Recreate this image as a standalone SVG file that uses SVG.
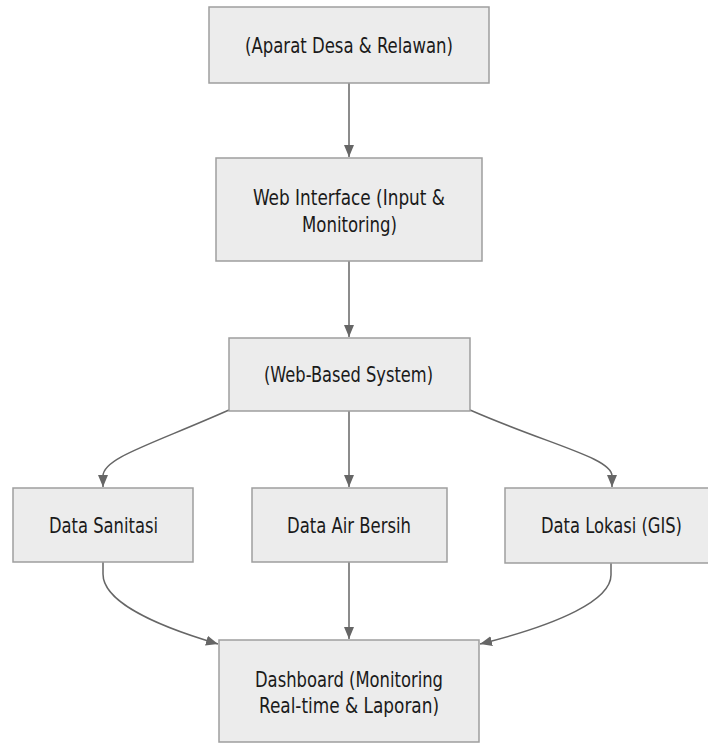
<svg xmlns="http://www.w3.org/2000/svg" width="708" height="743" viewBox="0 0 708 743">
<style>
.node rect{fill:#ececec;stroke:#9e9e9e;stroke-width:1.5}
.node text{font-family:"DejaVu Sans Condensed","DejaVu Sans",sans-serif;font-size:21.5px;fill:#1a1a1a;text-anchor:middle}
.edges path{fill:none;stroke:#666;stroke-width:1.5}
</style>
<defs>
<marker id="arr" viewBox="0 0 12 10" refX="12" refY="5" markerWidth="12" markerHeight="10" markerUnits="userSpaceOnUse" orient="auto">
<path d="M0,0 L12,5 L0,10 Z" fill="#666"/>
</marker>
</defs>
<rect width="708" height="743" fill="#fff"/>
<g class="edges">
<path d="M349,83 L349,157" marker-end="url(#arr)"/>
<path d="M349,261 L349,337" marker-end="url(#arr)"/>
<path d="M229,410 C150,445 103,458 103,476 L103,487" marker-end="url(#arr)"/>
<path d="M349,411 L349,487" marker-end="url(#arr)"/>
<path d="M470,410 C550,445 612,458 612,476 L612,487" marker-end="url(#arr)"/>
<path d="M103,562 L103,574 C103,600 150,624 218,644" marker-end="url(#arr)"/>
<path d="M349,562 L349,639" marker-end="url(#arr)"/>
<path d="M611,563 L611,575 C611,600 560,624 480,644" marker-end="url(#arr)"/>
</g>
<g id="n1" class="node"><rect x="209" y="7" width="280" height="76"/><text x="349" y="53" textLength="208" lengthAdjust="spacingAndGlyphs">(Aparat Desa &amp; Relawan)</text></g>
<g id="n2" class="node"><rect x="216" y="158" width="266" height="103"/><text x="349" y="205" textLength="192" lengthAdjust="spacingAndGlyphs">Web Interface (Input &amp;</text><text x="349.5" y="231.5" textLength="95" lengthAdjust="spacingAndGlyphs">Monitoring)</text></g>
<g id="n3" class="node"><rect x="229" y="338" width="241" height="73"/><text x="348.5" y="382" textLength="169" lengthAdjust="spacingAndGlyphs">(Web-Based System)</text></g>
<g id="n4" class="node"><rect x="13" y="488" width="180" height="74"/><text x="103.5" y="532.5" textLength="109" lengthAdjust="spacingAndGlyphs">Data Sanitasi</text></g>
<g id="n5" class="node"><rect x="252" y="488" width="195" height="74"/><text x="349" y="532.5" textLength="124" lengthAdjust="spacingAndGlyphs">Data Air Bersih</text></g>
<g id="n6" class="node"><rect x="505" y="488" width="212" height="75"/><text x="611.5" y="533" textLength="141" lengthAdjust="spacingAndGlyphs">Data Lokasi (GIS)</text></g>
<g id="n7" class="node"><rect x="219" y="640" width="260" height="102"/><text x="349" y="686.5" textLength="188" lengthAdjust="spacingAndGlyphs">Dashboard (Monitoring</text><text x="349" y="713" textLength="180" lengthAdjust="spacingAndGlyphs">Real-time &amp; Laporan)</text></g>
</svg>
